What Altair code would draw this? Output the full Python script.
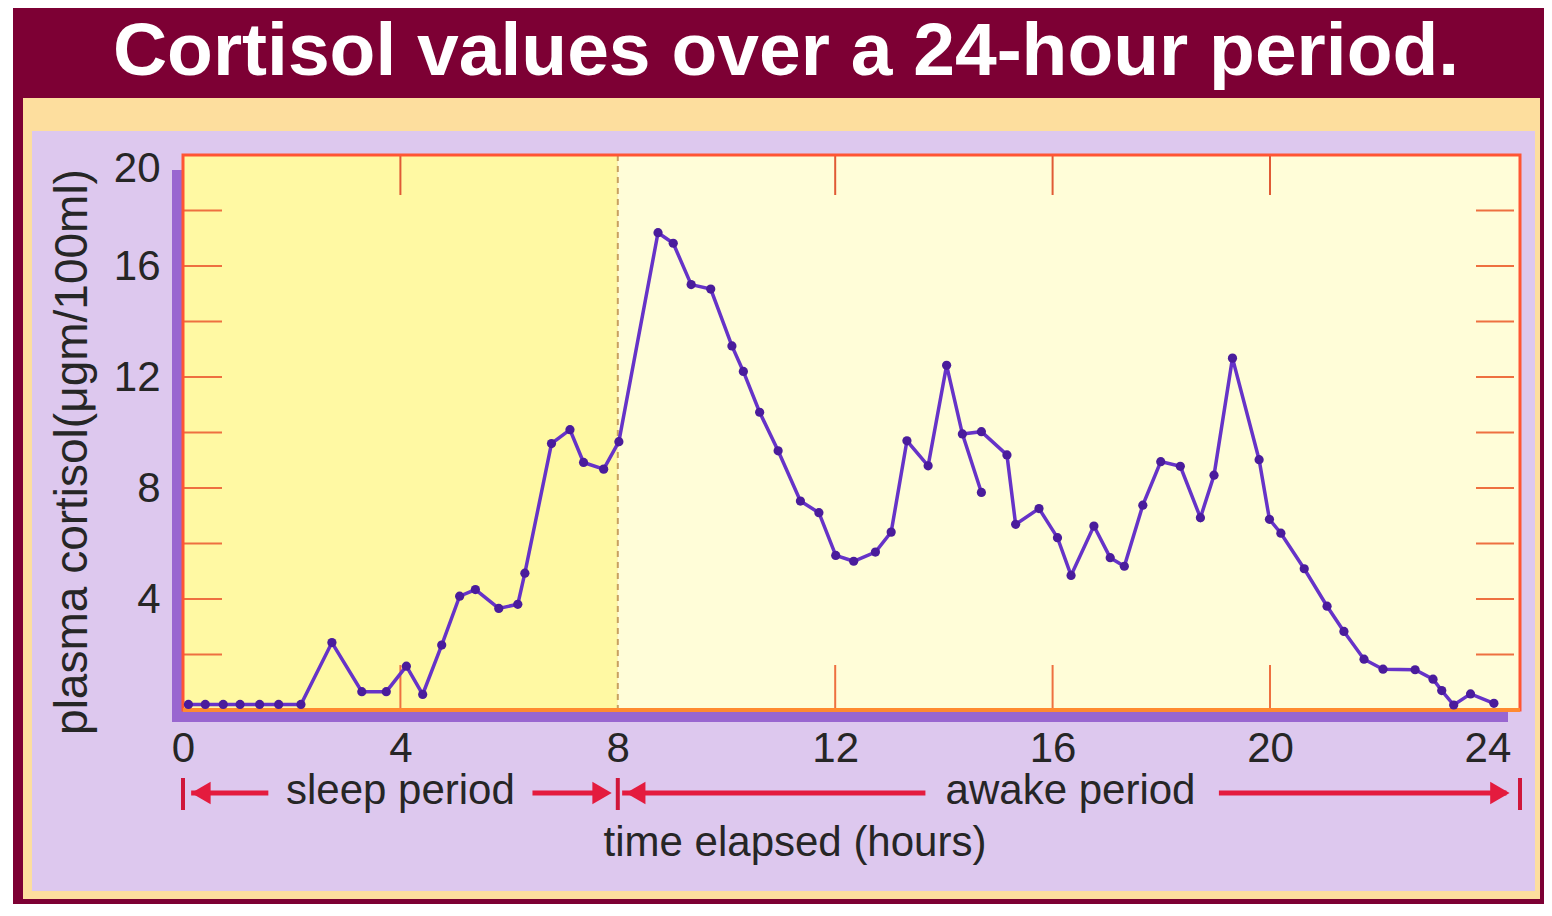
import altair as alt
import pandas as pd

FONT = "Liberation Sans"

# ---------------- values ----------------
hours = [0.10, 0.41, 0.74, 1.05, 1.41, 1.76, 2.17, 2.74, 3.29, 3.74,
         4.11, 4.41, 4.76, 5.09, 5.38, 5.81, 6.16, 6.29, 6.78, 7.12,
         7.37, 7.74, 8.02, 8.74, 9.02, 9.35, 9.71, 10.10, 10.31, 10.61,
         10.95, 11.36, 11.70, 12.01, 12.34, 12.74, 13.03, 13.32, 13.71, 14.05,
         14.34, 14.69, 14.69, 15.16, 15.32, 15.75, 16.09, 16.34, 16.76, 17.06,
         17.32, 17.66, 17.99, 18.35, 18.72, 18.97, 19.31, 19.80, 19.99, 20.20,
         20.63, 21.05, 21.36, 21.73, 22.08, 22.67, 23.00, 23.16, 23.38, 23.69,
         24.12]
cortisol = [0.2, 0.2, 0.2, 0.2, 0.2, 0.2, 0.2, 2.43, 0.66, 0.66,
            1.58, 0.56, 2.34, 4.10, 4.34, 3.66, 3.81, 4.93, 9.60, 10.10,
            8.92, 8.68, 9.67, 17.20, 16.82, 15.33, 15.17, 13.12, 12.20, 10.73,
            9.34, 7.53, 7.11, 5.57, 5.36, 5.69, 6.41, 9.70, 8.80, 12.42,
            9.95, 7.84, 10.03, 9.19, 6.69, 7.26, 6.21, 4.85, 6.63, 5.49,
            5.18, 7.38, 8.95, 8.78, 6.93, 8.46, 12.68, 9.02, 6.87, 6.37,
            5.09, 3.74, 2.83, 1.83, 1.47, 1.45, 1.11, 0.70, 0.18, 0.58,
            0.24]
branch_from = 40    # point where the second trace starts
branch_break = 42   # first point that belongs to the second trace

x_tick_values = [0, 4, 8, 12, 16, 20, 24]
y_tick_values = [4, 8, 12, 16, 20]
y_inner_ticks = [2, 4, 6, 8, 10, 12, 14, 16, 18]
x_inner_ticks = [4, 12, 16, 20]
x_max = 24.6
wake_hour = 8

periods = ["sleep period", "awake period"]
period_start = [0, 8]
period_end = [8, 24.6]
period_fill = ["#FFF9A3", "#FFFDD8"]
period_label_at = [4.0, 16.33]

bar_hours = [0, 8, 24.6]
arrow_line_start = [0.15, 6.43, 8.08, 19.06]
arrow_line_end = [1.57, 7.68, 13.66, 24.35]
arrow_head_at = [0.33, 7.71, 8.33, 24.23]
arrow_head_dir = ["triangle-left", "triangle-right", "triangle-left", "triangle-right"]

title_text = "Cortisol values over a 24-hour period."
y_title_text = "plasma cortisol(\u03bcgm/100ml)"
x_title_text = "time elapsed (hours)"

# ---------------- layout ----------------
W, H = 1337, 555
PAD = {"left": 175, "top": 147, "right": 24, "bottom": 194}

X_SCALE = alt.Scale(domain=[0, x_max], nice=False, zero=False)
Y_SCALE = alt.Scale(domain=[0, 20], nice=False, zero=False)
X_AX = alt.Axis(values=x_tick_values, title=None, domain=False, ticks=False, tickSize=0,
                grid=False, labelFontSize=42, labelColor="#262626", labelPadding=18,
                labelFlush=False, labelFont=FONT, labelAngle=0, zindex=3)
Y_AX = alt.Axis(values=y_tick_values, title=None, domain=False, ticks=False, tickSize=0,
                grid=False, labelFontSize=42, labelColor="#262626", labelPadding=23,
                labelFlush=True, labelFlushOffset=7, labelFont=FONT, zindex=3)

one = pd.DataFrame({"k": [0]})


def box(x1, x2, y1, y2, color):
    return alt.Chart(one).mark_rect(color=color).encode(
        x=alt.value(x1), x2=alt.value(x2), y=alt.value(y1), y2=alt.value(y2))


frame_maroon = box(-170, 1361, -147, 749, "#7D0034")
frame_peach = box(-160, 1357, -57, 744, "#FDDE9E")
frame_lav = box(-151, 1352, -24, 736, "#DDC8EE")
shadow_left = box(-11, -1, 15, 567, "#9966D0")
shadow_bottom = box(-11, 1325, 556, 567, "#9966D0")

period_df = pd.DataFrame({"period": periods, "start": period_start, "end": period_end,
                          "mid": period_label_at})
fills = alt.Chart(period_df).mark_rect().encode(
    x=alt.X("start:Q", scale=X_SCALE, axis=X_AX), x2="end:Q",
    y=alt.value(0), y2=alt.value(H),
    color=alt.Color("period:N", scale=alt.Scale(domain=periods, range=period_fill), legend=None))

ydf = pd.DataFrame({"v": y_inner_ticks})
xdf = pd.DataFrame({"v": x_inner_ticks})
tick_col = "#EE7040"
ticks_left = alt.Chart(ydf).mark_rule(color=tick_col, strokeWidth=2).encode(
    y=alt.Y("v:Q", scale=Y_SCALE, axis=Y_AX), x=alt.value(0), x2=alt.value(39))
ticks_right = alt.Chart(ydf).mark_rule(color=tick_col, strokeWidth=2).encode(
    y=alt.Y("v:Q", scale=Y_SCALE, axis=Y_AX), x=alt.value(W - 44), x2=alt.value(W - 6))
ticks_top = alt.Chart(xdf).mark_rule(color="#E05A35", strokeWidth=2).encode(
    x=alt.X("v:Q", scale=X_SCALE, axis=X_AX), y=alt.value(0), y2=alt.value(40))
ticks_bottom = alt.Chart(xdf).mark_rule(color=tick_col, strokeWidth=2).encode(
    x=alt.X("v:Q", scale=X_SCALE, axis=X_AX), y=alt.value(H - 45), y2=alt.value(H))

wake_rule = alt.Chart(pd.DataFrame({"v": [wake_hour]})).mark_rule(
    color="#C8A060", strokeWidth=2, strokeDash=[6, 5]).encode(
    x=alt.X("v:Q", scale=X_SCALE, axis=X_AX), y=alt.value(0), y2=alt.value(H))

border = alt.Chart(one).mark_rect(fillOpacity=0, stroke="#FF5533", strokeWidth=3).encode(
    x=alt.value(0), x2=alt.value(W), y=alt.value(0), y2=alt.value(H))
border_bottom = alt.Chart(one).mark_rule(color="#FF8A30", strokeWidth=4).encode(
    x=alt.value(0), x2=alt.value(W), y=alt.value(H))

n = len(hours)
trace_a = list(range(0, branch_break))
trace_b = [branch_from] + list(range(branch_break, n))
line_df = pd.DataFrame({
    "h": [hours[i] for i in trace_a] + [hours[i] for i in trace_b],
    "v": [cortisol[i] for i in trace_a] + [cortisol[i] for i in trace_b],
    "trace": ["a"] * len(trace_a) + ["b"] * len(trace_b),
    "o": list(range(len(trace_a))) + list(range(len(trace_b))),
})
pts_df = pd.DataFrame({"h": hours, "v": cortisol})

line = alt.Chart(line_df).mark_line(color="#6633C8", strokeWidth=3.5).encode(
    x=alt.X("h:Q", scale=X_SCALE, axis=X_AX),
    y=alt.Y("v:Q", scale=Y_SCALE, axis=Y_AX),
    detail="trace:N", order="o:Q")
points = alt.Chart(pts_df).mark_circle(color="#4A1C9C", size=85, opacity=1).encode(
    x=alt.X("h:Q", scale=X_SCALE, axis=X_AX),
    y=alt.Y("v:Q", scale=Y_SCALE, axis=Y_AX))

RED = "#E41B3E"
ARROW_Y = 638
bars = alt.Chart(pd.DataFrame({"v": bar_hours})).mark_rule(color="#D0163A", strokeWidth=4).encode(
    x=alt.X("v:Q", scale=X_SCALE, axis=X_AX), y=alt.value(623), y2=alt.value(655))
arrow_lines = alt.Chart(pd.DataFrame({"a": arrow_line_start, "b": arrow_line_end})).mark_rule(
    color=RED, strokeWidth=5).encode(
    x=alt.X("a:Q", scale=X_SCALE, axis=X_AX), x2="b:Q", y=alt.value(ARROW_Y))
heads = alt.Chart(pd.DataFrame({"h": arrow_head_at, "d": arrow_head_dir})).mark_point(
    filled=True, color=RED, size=500, opacity=1).encode(
    x=alt.X("h:Q", scale=X_SCALE, axis=X_AX), y=alt.value(ARROW_Y),
    shape=alt.Shape("d:N", scale=alt.Scale(domain=["triangle-left", "triangle-right"],
                                           range=["triangle-left", "triangle-right"]),
                    legend=None))
period_text = alt.Chart(period_df).mark_text(
    font=FONT, fontSize=42, color="#262626", baseline="middle", align="center").encode(
    x=alt.X("mid:Q", scale=X_SCALE, axis=X_AX), y=alt.value(636), text="period:N")

x_title = alt.Chart(one).mark_text(
    text=x_title_text, font=FONT, fontSize=42, color="#262626", baseline="middle",
    align="center").encode(x=alt.value(612), y=alt.value(688))
y_title = alt.Chart(one).mark_text(
    text=y_title_text, font=FONT, fontSize=46, color="#262626", baseline="middle",
    align="center", angle=270).encode(x=alt.value(-110), y=alt.value(297))
title = alt.Chart(one).mark_text(
    text=title_text, font=FONT, fontSize=75, fontWeight="bold", color="#FFFFFF",
    baseline="alphabetic", align="center").encode(x=alt.value(603), y=alt.value(-80))

chart = alt.layer(
    frame_maroon, frame_peach, frame_lav, shadow_left, shadow_bottom,
    fills, ticks_left, ticks_right, ticks_top, ticks_bottom, wake_rule,
    border, border_bottom, line, points,
    bars, arrow_lines, heads, period_text, x_title, y_title, title,
).properties(
    width=W, height=H, padding=PAD,
    autosize=alt.AutoSizeParams(type="none"), background="white",
).configure_view(stroke=None)

chart.save("out.html", embed_options={"renderer": "svg", "actions": False})
